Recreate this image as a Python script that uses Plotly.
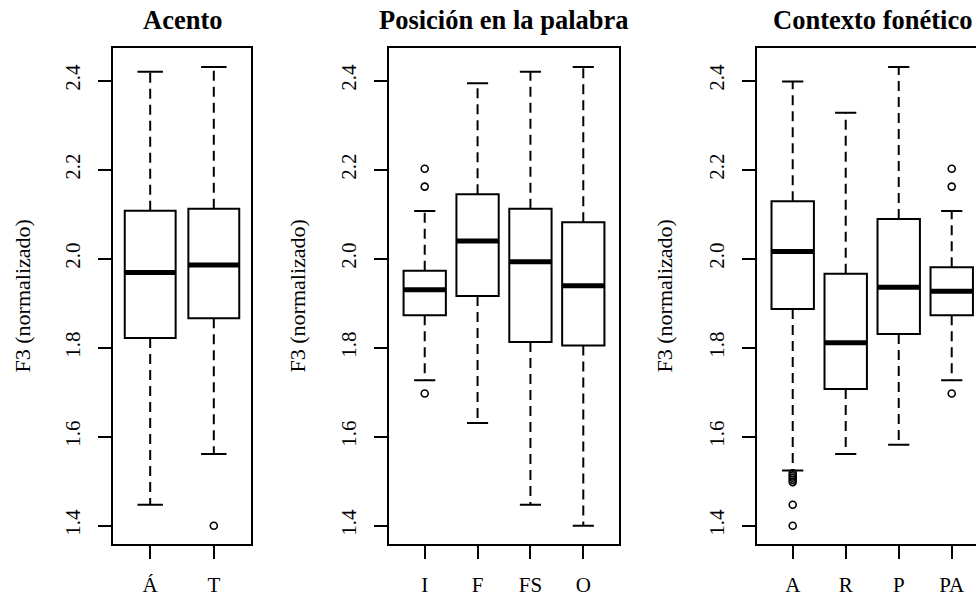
import plotly.graph_objects as go

W, H = 976, 596

# ---------------- data ----------------
acento_cats = ["Á", "T"]
acento_q1 = [1.822, 1.866]
acento_med = [1.969, 1.986]
acento_q3 = [2.108, 2.112]
acento_lo = [1.447, 1.561]
acento_hi = [2.420, 2.431]
acento_out = [[], [1.400]]

pos_cats = ["I", "F", "FS", "O"]
pos_q1 = [1.873, 1.916, 1.813, 1.805]
pos_med = [1.930, 2.040, 1.993, 1.939]
pos_q3 = [1.973, 2.145, 2.112, 2.082]
pos_lo = [1.727, 1.631, 1.447, 1.400]
pos_hi = [2.107, 2.394, 2.420, 2.431]
pos_out = [[2.202, 2.162, 1.697], [], [], []]

ctx_cats = ["A", "R", "P", "PA"]
ctx_q1 = [1.887, 1.707, 1.831, 1.873]
ctx_med = [2.016, 1.811, 1.936, 1.927]
ctx_q3 = [2.129, 1.966, 2.089, 1.981]
ctx_lo = [1.524, 1.561, 1.582, 1.727]
ctx_hi = [2.398, 2.328, 2.431, 2.107]
ctx_out = [[1.518, 1.513, 1.508, 1.503, 1.498, 1.447, 1.400], [], [], [2.202, 2.162, 1.697]]

titles = ["Acento", "Posición en la palabra", "Contexto fonético"]
y_title = "F3 (normalizado)"
y_ticks = [1.4, 1.6, 1.8, 2.0, 2.2, 2.4]

# ---------------- layout geometry ----------------
FONT = "Liberation Serif, Times New Roman, serif"
panels = [
    dict(cats=acento_cats, q1=acento_q1, med=acento_med, q3=acento_q3, lo=acento_lo, hi=acento_hi, out=acento_out,
         px=(113.3, 250.7), xr=(-0.58, 1.58), mirror_y=True, title_x=182, ytitle_x=22),
    dict(cats=pos_cats, q1=pos_q1, med=pos_med, q3=pos_q3, lo=pos_lo, hi=pos_hi, out=pos_out,
         px=(389.3, 618.7), xr=(-0.67, 3.67), mirror_y=True, title_x=504, ytitle_x=297),
    dict(cats=ctx_cats, q1=ctx_q1, med=ctx_med, q3=ctx_q3, lo=ctx_lo, hi=ctx_hi, out=ctx_out,
         px=(757.3, 976.0), xr=(-0.668, 3.458), mirror_y=False, title_x=872, ytitle_x=664),
]
top_px, bot_px = 48.3, 544.0
y_range = [1.3589, 2.4728]
ydom = [1 - bot_px / H, 1 - top_px / H]

fig = go.Figure()
annotations = []
BW = 0.8
for k, p in enumerate(panels):
    sfx = "" if k == 0 else str(k + 1)
    xa, ya = "x" + sfx, "y" + sfx
    n = len(p["cats"])
    xs = list(range(n))
    fig.add_trace(go.Box(
        x=xs, q1=p["q1"], median=p["med"], q3=p["q3"],
        lowerfence=p["q1"], upperfence=p["q3"],
        width=BW, whiskerwidth=0, boxpoints=False,
        fillcolor="white", line=dict(color="black", width=2),
        xaxis=xa, yaxis=ya, showlegend=False, hoverinfo="skip"))
    wx, wy, sx, sy, mx, my = [], [], [], [], [], []
    for i in xs:
        wx += [i, i, None, i, i, None]
        wy += [p["q3"][i], p["hi"][i], None, p["q1"][i], p["lo"][i], None]
        sx += [i - 0.2, i + 0.2, None, i - 0.2, i + 0.2, None]
        sy += [p["hi"][i], p["hi"][i], None, p["lo"][i], p["lo"][i], None]
        mx += [i - BW / 2, i + BW / 2, None]
        my += [p["med"][i], p["med"][i], None]
    fig.add_trace(go.Scatter(x=wx, y=wy, mode="lines", line=dict(color="black", width=2, dash="10px,6px"),
                             xaxis=xa, yaxis=ya, showlegend=False, hoverinfo="skip"))
    fig.add_trace(go.Scatter(x=sx, y=sy, mode="lines", line=dict(color="black", width=2),
                             xaxis=xa, yaxis=ya, showlegend=False, hoverinfo="skip"))
    fig.add_trace(go.Scatter(x=mx, y=my, mode="lines", line=dict(color="black", width=5),
                             xaxis=xa, yaxis=ya, showlegend=False, hoverinfo="skip"))
    ox, oy = [], []
    for i in xs:
        for v in p["out"][i]:
            ox.append(i)
            oy.append(v)
    if ox:
        fig.add_trace(go.Scatter(x=ox, y=oy, mode="markers",
                                 marker=dict(symbol="circle-open", size=7, color="black", line=dict(width=1.6)),
                                 xaxis=xa, yaxis=ya, showlegend=False, hoverinfo="skip"))

    fig.update_layout(**{
        "xaxis" + sfx: dict(domain=[p["px"][0] / W, p["px"][1] / W], range=list(p["xr"]), anchor=ya,
                            tickmode="array", tickvals=xs, ticktext=p["cats"],
                            ticks="outside", ticklen=13, tickwidth=2, tickcolor="black",
                            showline=True, linewidth=2, linecolor="black", mirror=True,
                            showgrid=False, zeroline=False, ticklabelstandoff=8,
                            tickfont=dict(family=FONT, size=21, color="black"), fixedrange=True),
        "yaxis" + sfx: dict(domain=ydom, range=y_range, anchor=xa,
                            tickmode="array", tickvals=y_ticks, ticktext=[f"{v:.1f}" for v in y_ticks],
                            tickangle=-90, ticks="outside", ticklen=13, tickwidth=2, tickcolor="black",
                            showline=True, linewidth=2, linecolor="black", mirror=p["mirror_y"],
                            showgrid=False, zeroline=False, ticklabelstandoff=10,
                            tickfont=dict(family=FONT, size=21, color="black"), fixedrange=True),
    })
    annotations.append(dict(text="<b>" + titles[k] + "</b>", x=p["title_x"] / W, y=1 - 20.5 / H,
                            xref="paper", yref="paper", xanchor="center", yanchor="middle", showarrow=False,
                            font=dict(family=FONT, size=26.5, color="black")))
    annotations.append(dict(text=y_title, x=p["ytitle_x"] / W, y=1 - 296.5 / H, textangle=-90,
                            xref="paper", yref="paper", xanchor="center", yanchor="middle", showarrow=False,
                            font=dict(family=FONT, size=22, color="black")))

fig.update_layout(width=W, height=H, margin=dict(l=0, r=0, t=0, b=0),
                  paper_bgcolor="white", plot_bgcolor="white", annotations=annotations)

fig.write_html("out.html", config={"displayModeBar": False},
               post_script="document.body.style.margin='0px';document.body.style.overflow='hidden';")
